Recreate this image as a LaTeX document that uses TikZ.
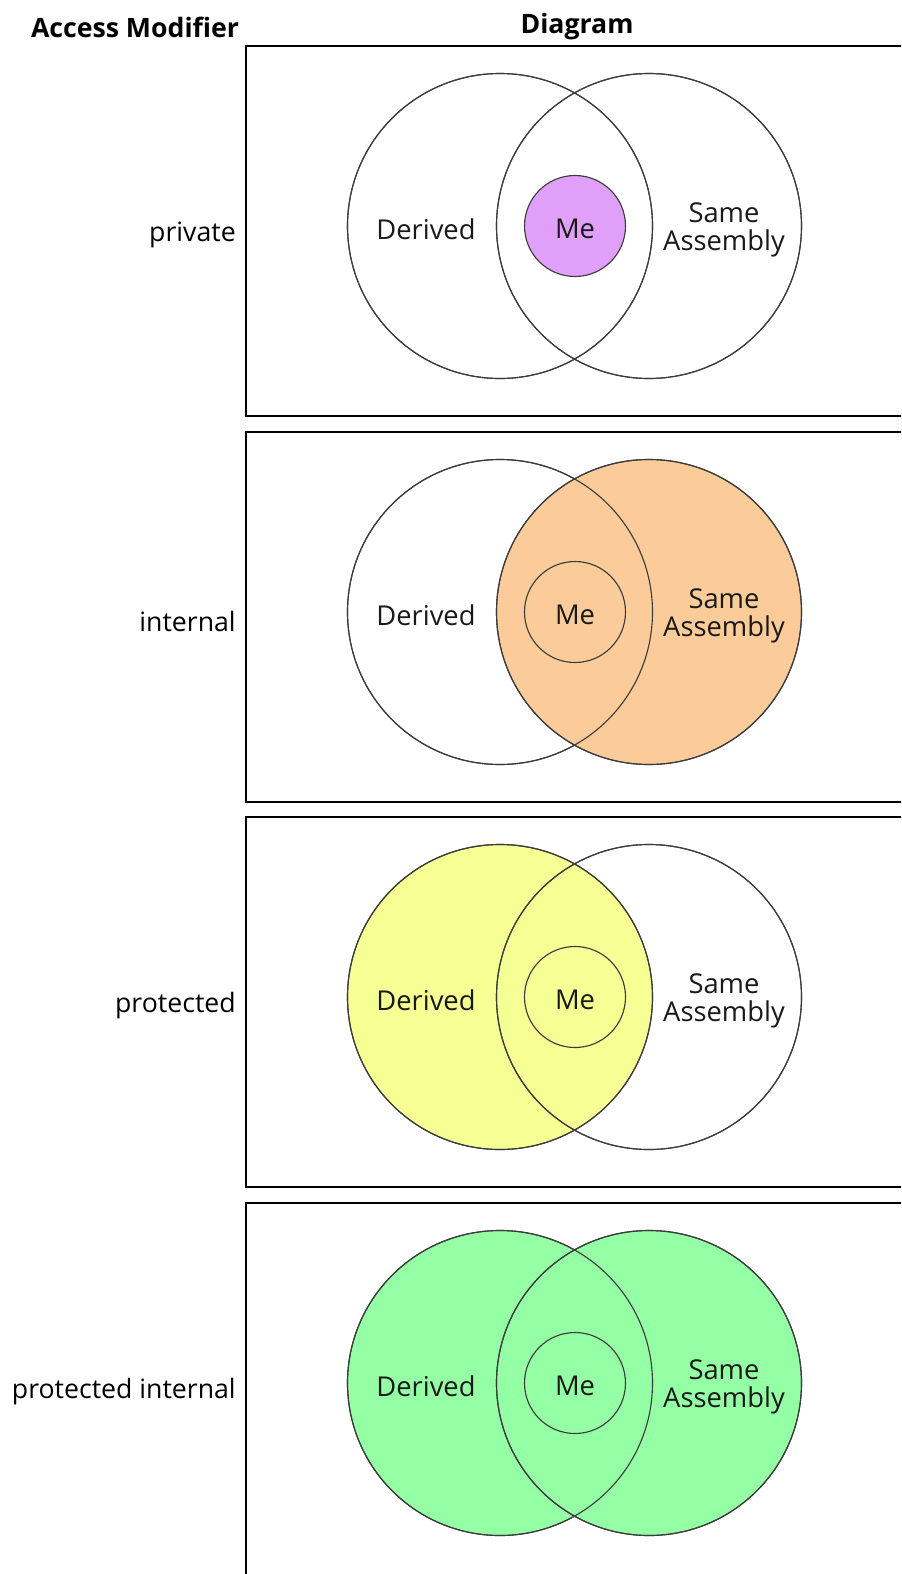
\documentclass[tikz,border=0pt]{standalone}
\usepackage{fontspec}
\setmainfont{Open Sans}
\definecolor{cpurple}{RGB}{224,160,250}
\definecolor{corange}{RGB}{251,204,154}
\definecolor{cyellow}{RGB}{246,255,148}
\definecolor{cgreen}{RGB}{148,255,164}
\definecolor{cline}{RGB}{60,60,60}
\tikzset{
  frame/.style={draw=black, line width=1.5pt},
  big/.style={circle, minimum size=228.75pt, inner sep=0pt, draw=cline, line width=0.85pt},
  small/.style={circle, minimum size=75.75pt, inner sep=0pt, draw=cline, line width=0.85pt},
  outline/.style={draw=cline, line width=0.85pt},
  vlabel/.style={font=\fontsize{20.5}{21}\selectfont, text=black!90, inner sep=0pt, align=center},
  rowlabel/.style={font=\fontsize{20}{24}\selectfont, anchor=east, inner sep=0pt},
  head/.style={font=\bfseries\fontsize{20}{24}\selectfont, inner sep=0pt},
}
\newcommand\vennpanel[7]{%
  % #1 top y, #2 suffix, #3 left fill, #4 right fill, #5 me fill, #6 label, #7 box height (pt)
  \node[frame, inner sep=0pt, anchor=north west, minimum width=495pt, minimum height=#7] (box#2) at (245,#1) {};
  \node[big, fill=#3] (d#2) at (500,#1+181) {};
  \node[big, fill=#4] (s#2) at (649,#1+181) {};
  \node[small, fill=#5] (m#2) at (575,#1+181) {};
  \draw[outline] (d#2.center) circle[radius=152.5];
  \draw[outline] (s#2.center) circle[radius=152.5];
  \node[vlabel] (dt#2) at (426,#1+184) {Derived};
  \node[vlabel] (mt#2) at (575,#1+184) {Me};
  \node[vlabel] (st#2) at (724,#1+185) {Same\\Assembly};
  \node[rowlabel] (r#2) at (236,#1+190) {#6};
}
\begin{document}
\begin{tikzpicture}[x=0.75pt,y=-0.75pt]
\clip (0,0) rectangle (901,1574);
\fill[white] (0,0) rectangle (901,1574);
\node[head] (h1) at (135,27) {Access Modifier};
\node[head] (h2) at (577,27) {Diagram};
\vennpanel{45}{a}{none}{none}{cpurple}{private}{277.5pt}
\vennpanel{431}{b}{none}{corange}{corange}{internal}{277.5pt}
\vennpanel{816}{c}{cyellow}{none}{cyellow}{protected}{277.5pt}
\vennpanel{1202}{d}{cgreen}{cgreen}{cgreen}{protected internal}{300pt}
\end{tikzpicture}
\end{document}
